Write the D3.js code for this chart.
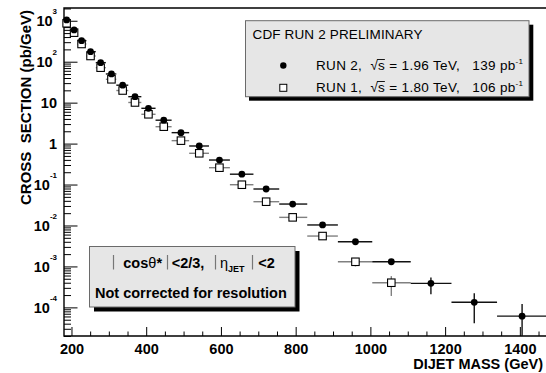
<!DOCTYPE html>
<html>
<head>
<meta charset="utf-8">
<script src="https://cdn.jsdelivr.net/npm/d3@7"></script>
<style>
body { margin: 0; background: #fff; }
svg { display: block; font-family: "Liberation Sans", Arial, Helvetica, sans-serif; }
</style>
</head>
<body>
<div id="chart"></div>
<script>

// DIJET MASS SPECTRUM - CDF RUN 2 vs RUN 1

// bins in dijet mass (GeV)
const massCenter = [187, 207, 227, 251, 278, 307, 337, 370, 406, 447, 493, 542, 596, 656, 721, 792, 872, 960, 1056, 1162, 1278, 1406];
const binLow  = [180, 197, 216, 240, 265, 292, 320, 352, 387, 425, 468, 515, 568, 624, 687, 756, 831, 913, 1005, 1108, 1217, 1339];
const binHigh = [197, 216, 240, 265, 292, 320, 352, 387, 425, 468, 515, 568, 624, 687, 756, 831, 913, 1005, 1108, 1217, 1339, 1475];

// cross sections (pb/GeV)
const run2Xsec = [1047, 596, 327, 176, 94.8, 50.2, 26.7, 14.0, 7.28, 3.73, 1.85, 0.874, 0.397, 0.179, 0.0778, 0.0334, 0.0103, 0.00401, 0.0013, 3.86e-4, 1.33e-4, 6.1e-5];
const run1Xsec = [869, 512, 271, 138, 71.5, 37.2, 19.8, 10.1, 5.2, 2.59, 1.18, 0.58, 0.258, 0.099, 0.0381, 0.0158, 0.00552, 0.0013, 4.0e-4];

// vertical error bands (only where they stick out of the marker)
const run2Upper = [null, null, null, null, null, null, null, null, null, null, null, null, null, null, null, null, null, null, null, 5.4e-4, 2.2e-4, 1.21e-4];
const run2Lower = [null, null, null, null, null, null, null, null, null, null, null, null, null, null, null, null, null, null, null, 2.1e-4, 4.1e-5, 1e-6];
const run1Upper = [null, null, null, null, null, null, null, null, null, null, null, null, null, null, null, null, null, 1.6e-3, 5.8e-4];
const run1Lower = [null, null, null, null, null, null, null, null, null, null, null, null, null, null, null, null, null, 1.0e-3, 1.9e-4];

// axis ticks
const xMajorTicks = [200, 400, 600, 800, 1000, 1200, 1400];
const yMajorTicks = [1e-4, 1e-3, 1e-2, 1e-1, 1, 10, 100, 1000];
const yTickBase = ["10", "10", "10", "10", "1", "10", "10", "10"];
const yTickExp  = ["-4", "-3", "-2", "-1", "", "", "2", "3"];


const width = 546, height = 373;
const frame = { left: 64, top: 8, right: 546, bottom: 336 };

const svg = d3.select("#chart")
  .append("svg")
  .attr("width", width)
  .attr("height", height);

svg.append("rect")
  .attr("width", width).attr("height", height)
  .attr("fill", "#fff");

const xScale = d3.scaleLinear()
  .domain([180, 1470])
  .range([frame.left, frame.right]);

const yScale = d3.scaleLog()
  .domain([2e-5, 2050])
  .range([frame.bottom, frame.top]);

// minor tick values
const yMinor = [];
for (let e = -5; e <= 3; e++) {
  for (let k = 2; k <= 9; k++) {
    const v = k * Math.pow(10, e);
    if (v >= 2e-5 && v <= 2050) yMinor.push(v);
  }
}
const xMinor = d3.range(200, 1470, 50).filter(v => v % 200 !== 0);

// clip for error bars
svg.append("clipPath").attr("id", "plotClip")
  .append("rect")
  .attr("x", frame.left).attr("y", frame.top)
  .attr("width", frame.right - frame.left).attr("height", frame.bottom - frame.top);

// Y axis (ticks inside)
svg.append("g")
  .attr("transform", `translate(${frame.left},0)`)
  .call(d3.axisLeft(yScale).tickValues(yMinor).tickSize(-7).tickFormat(""))
  .call(g => g.select(".domain").remove());

const yAxisG = svg.append("g")
  .attr("transform", `translate(${frame.left},0)`)
  .call(d3.axisLeft(yScale).tickValues(yMajorTicks).tickSize(-13.5).tickPadding(7).tickFormat(""))
  .call(g => g.select(".domain").remove())
  .attr("font-family", null)
  .attr("font-size", null);

yAxisG.selectAll(".tick text")
  .attr("font-size", "14.5px")
  .attr("font-weight", "bold")
  .attr("fill", "#000")
  .each(function(d, i) {
    const t = d3.select(this);
    t.append("tspan").text(yTickBase[i]);
    if (yTickExp[i] !== "") {
      t.append("tspan")
        .attr("font-size", "8px")
        .attr("dy", "-12")
        .text(yTickExp[i]);
    }
  });

// X axis (ticks inside)
svg.append("g")
  .attr("transform", `translate(0,${frame.bottom})`)
  .call(d3.axisBottom(xScale).tickValues(xMinor).tickSize(-4.5).tickFormat(""))
  .call(g => g.select(".domain").remove());

svg.append("g")
  .attr("transform", `translate(0,${frame.bottom})`)
  .call(d3.axisBottom(xScale).tickValues(xMajorTicks).tickSize(-9).tickPadding(7.5).tickFormat(d3.format("d")))
  .call(g => g.select(".domain").remove())
  .attr("font-family", null)
  .attr("font-size", "14.5px")
  .attr("font-weight", "bold")
  .selectAll("text").attr("fill", "#000");

// frame
svg.append("path")
  .attr("d", `M${frame.right + 3},${frame.top}H${frame.left}V${frame.bottom}H${frame.right + 3}`)
  .attr("fill", "none")
  .attr("stroke", "#000")
  .attr("stroke-width", 1.4);

// axis titles
svg.append("text")
  .attr("transform", "translate(31,10) rotate(-90)")
  .attr("text-anchor", "end")
  .attr("font-size", "15px")
  .attr("font-weight", "bold")
  .style("white-space", "pre")
  .text("CROSS  SECTION (pb/GeV)");

svg.append("text")
  .attr("x", 543).attr("y", 368.5)
  .attr("text-anchor", "end")
  .attr("font-size", "14.5px")
  .attr("font-weight", "bold")
  .text("DIJET MASS (GeV)");


// DATA

const gData = svg.append("g");
const gBars = gData.append("g").attr("clip-path", "url(#plotClip)");

const run1 = run1Xsec.map((v, i) => ({ x: massCenter[i], lo: binLow[i], hi: binHigh[i], y: v, up: run1Upper[i], dn: run1Lower[i] }));
const run2 = run2Xsec.map((v, i) => ({ x: massCenter[i], lo: binLow[i], hi: binHigh[i], y: v, up: run2Upper[i], dn: run2Lower[i] }));

function drawBars(data, color) {
  gBars.selectAll(null).data(data).enter()
    .append("line")
    .attr("x1", d => xScale(d.lo)).attr("x2", d => xScale(d.hi))
    .attr("y1", d => yScale(d.y)).attr("y2", d => yScale(d.y))
    .attr("stroke", color).attr("stroke-width", 1.4);
  gBars.selectAll(null).data(data.filter(d => d.up !== null)).enter()
    .append("line")
    .attr("x1", d => xScale(d.x)).attr("x2", d => xScale(d.x))
    .attr("y1", d => yScale(d.up)).attr("y2", d => yScale(d.dn))
    .attr("stroke", color).attr("stroke-width", 1.4);
}

drawBars(run1, "#808080");
drawBars(run2, "#111");

const sq = 7.5;
gData.selectAll(".run1").data(run1).enter()
  .append("rect")
  .attr("class", "run1")
  .attr("x", d => xScale(d.x) - sq / 2)
  .attr("y", d => yScale(d.y) - sq / 2)
  .attr("width", sq).attr("height", sq)
  .attr("fill", "#fff")
  .attr("stroke", "#000")
  .attr("stroke-width", 1.1);

gData.selectAll(".run2").data(run2).enter()
  .append("circle")
  .attr("class", "run2")
  .attr("cx", d => xScale(d.x))
  .attr("cy", d => yScale(d.y))
  .attr("r", 3.4)
  .attr("fill", "#000");


// LEGEND BOX

const leg = svg.append("g");
leg.append("rect")
  .attr("x", 249).attr("y", 24.7).attr("width", 284.3).attr("height", 76)
  .attr("fill", "#000");
leg.append("rect")
  .attr("x", 245.5).attr("y", 20.7).attr("width", 283.5).attr("height", 76)
  .attr("fill", "#e6e6e6")
  .attr("stroke", "#6a6a6a")
  .attr("stroke-width", 1);

leg.append("text")
  .attr("x", 252.5).attr("y", 39)
  .attr("font-size", "13.5px")
  .attr("textLength", 170)
  .attr("lengthAdjust", "spacing")
  .text("CDF RUN 2 PRELIMINARY");

leg.append("circle").attr("cx", 283.3).attr("cy", 65.5).attr("r", 3.2).attr("fill", "#000");
leg.append("rect").attr("x", 279.8).attr("y", 84.3).attr("width", 7).attr("height", 7)
  .attr("fill", "#fff").attr("stroke", "#000").attr("stroke-width", 1);

const legRows = [
  { run: "RUN 2,  ", energy: " = 1.96 TeV,   ", lumi: "139 pb", y: 70 },
  { run: "RUN 1,  ", energy: " = 1.80 TeV,   ", lumi: "106 pb", y: 92 }
];

legRows.forEach(r => {
  const t = leg.append("text")
    .attr("x", 316).attr("y", r.y)
    .attr("font-size", "13.5px")
    .attr("textLength", 207)
    .attr("lengthAdjust", "spacing")
    .style("white-space", "pre");
  t.append("tspan").text(r.run);
  t.append("tspan").text("\u221A");
  t.append("tspan").text("s");
  t.append("tspan").text(r.energy + r.lumi);
  t.append("tspan").attr("font-size", "8px").attr("dy", -6).text("-1");

  // overline on the s of sqrt(s)
  const idx = r.run.length + 1;
  const ext = t.node().getExtentOfChar(idx);
  leg.append("line")
    .attr("x1", ext.x - 1).attr("x2", ext.x + ext.width)
    .attr("y1", ext.y + 1.5).attr("y2", ext.y + 1.5)
    .attr("stroke", "#000").attr("stroke-width", 0.9);
});


// CUTS BOX

const cut = svg.append("g");
cut.append("rect")
  .attr("x", 94).attr("y", 251).attr("width", 205.5).attr("height", 60.5)
  .attr("fill", "#000");
cut.append("rect")
  .attr("x", 89.5).attr("y", 246.5).attr("width", 205.5).attr("height", 60.5)
  .attr("fill", "#e6e6e6")
  .attr("stroke", "#6a6a6a")
  .attr("stroke-width", 1);

[113.5, 167.5, 215.5, 252.5].forEach(px => {
  cut.append("line")
    .attr("x1", px).attr("x2", px).attr("y1", 255).attr("y2", 269.5)
    .attr("stroke", "#777").attr("stroke-width", 1.2);
});

const c1 = cut.append("text").attr("x", 123.3).attr("y", 268).attr("font-size", "14.5px");
c1.append("tspan").attr("font-weight", "bold").text("cos");
c1.append("tspan").text("\u03B8");
c1.append("tspan").attr("font-weight", "bold").text("*");

cut.append("text").attr("x", 171.7).attr("y", 268)
  .attr("font-size", "14.5px").attr("font-weight", "bold").text("<2/3,");

const c2 = cut.append("text").attr("x", 220).attr("y", 268).attr("font-size", "14.5px");
c2.append("tspan").text("\u03B7");
c2.append("tspan").attr("font-size", "9px").attr("font-weight", "bold").attr("dy", 4).text("JET");

cut.append("text").attr("x", 258.3).attr("y", 268)
  .attr("font-size", "14.5px").attr("font-weight", "bold").text("<2");

cut.append("text").attr("x", 95).attr("y", 298)
  .attr("font-size", "14.5px").attr("font-weight", "bold")
  .text("Not corrected for resolution");

</script>
</body>
</html>
